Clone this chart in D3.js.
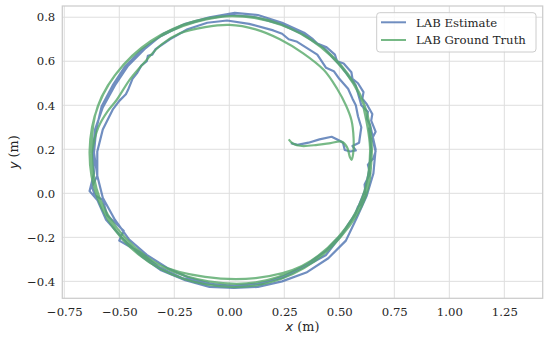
<!DOCTYPE html>
<html>
<head>
<meta charset="utf-8">
<script src="https://cdn.jsdelivr.net/npm/d3@7"></script>
<style>
  html, body { margin: 0; padding: 0; background: #fff; }
  svg { display: block; }
  text { font-family: "DejaVu Serif", serif; fill: #262626; }
</style>
</head>
<body>
<svg id="chart" width="550" height="339"></svg>
<script>
// ---- data (metres) ----
var xTicks = [-0.75, -0.5, -0.25, 0, 0.25, 0.5, 0.75, 1.0, 1.25];
var yTicks = [-0.4, -0.2, 0.0, 0.2, 0.4, 0.6, 0.8];
var seriesNames = ["LAB Estimate", "LAB Ground Truth"];

// LAB Estimate (noisy)
var estX = [0.28,0.31,0.36,0.41,0.465,0.50,0.517,0.525,0.55,0.575,0.56,0.59,
  0.60,0.585,0.575,0.56,0.54,0.50,0.475,0.44,0.40,0.305,0.27,0.24,0.20,0.09,-0.01,-0.10,-0.19,-0.27,-0.335,-0.35,-0.37,-0.375,-0.40,-0.42,-0.44,-0.46,-0.47,-0.50,-0.53,-0.575,-0.60,-0.60,-0.625,-0.61,-0.575,-0.555,-0.48,-0.50,-0.465,-0.41,-0.32,-0.215,-0.10,0.02,0.13,0.24,0.34,0.44,0.51,0.57,0.585,0.60,0.62,0.615,0.64,0.63,0.655,0.665,
  0.65,0.665,0.645,0.65,0.625,0.605,0.61,0.585,0.56,0.555,0.52,0.49,0.48,0.44,0.40,0.38,0.34,0.24,0.13,0.025,-0.09,-0.20,-0.30,-0.38,-0.46,-0.52,-0.575,-0.61,-0.62,-0.615,-0.635,-0.60,-0.56,-0.48,-0.40,-0.31,-0.20,-0.09,0.02,0.13,0.24,0.35,0.45,0.53,0.58,0.625,0.655,0.665,
  0.64,0.625,0.63,0.60,0.575,0.51,0.43,0.33,0.23,0.12,0.01,-0.10,-0.21,-0.31,-0.40,-0.475,-0.53,-0.58,-0.605,-0.615,-0.60,-0.575,-0.52,-0.455,-0.375,-0.28,-0.18,-0.07,0.04,0.15,0.25,0.35,0.44,0.515,0.575,0.615,0.635,0.645,0.635];
var estY = [0.228,0.22,0.23,0.245,0.257,0.24,0.229,0.197,0.19,0.195,0.215,0.23,
  0.30,0.35,0.40,0.43,0.475,0.52,0.555,0.57,0.63,0.69,0.70,0.725,0.74,0.77,0.785,0.775,0.745,0.70,0.655,0.63,0.625,0.60,0.58,0.545,0.52,0.47,0.45,0.42,0.38,0.29,0.19,0.08,0.03,-0.01,-0.03,-0.10,-0.17,-0.215,-0.235,-0.265,-0.335,-0.385,-0.41,-0.42,-0.41,-0.385,-0.335,-0.28,-0.19,-0.10,-0.06,-0.05,-0.01,0.04,0.09,0.13,0.16,0.19,
  0.25,0.28,0.33,0.36,0.405,0.43,0.46,0.50,0.52,0.55,0.59,0.60,0.63,0.665,0.68,0.70,0.73,0.775,0.81,0.82,0.80,0.77,0.725,0.66,0.58,0.49,0.39,0.29,0.19,0.09,0.01,-0.03,-0.12,-0.21,-0.285,-0.35,-0.395,-0.425,-0.43,-0.425,-0.40,-0.36,-0.295,-0.215,-0.11,-0.01,0.09,0.20,
  0.31,0.34,0.37,0.40,0.49,0.575,0.66,0.725,0.77,0.80,0.81,0.795,0.765,0.715,0.65,0.575,0.49,0.395,0.29,0.185,0.08,-0.02,-0.12,-0.21,-0.28,-0.34,-0.385,-0.415,-0.42,-0.41,-0.375,-0.325,-0.26,-0.18,-0.09,0.01,0.10,0.20,0.30];

// LAB Ground Truth (smooth)
var gtX = [0.27,0.29,0.33,0.40,0.46,0.51,0.535,0.548,0.556,0.563,0.565,
  0.555,0.53,0.49,0.43,0.336,0.23,0.12,0.0,-0.11,-0.224,-0.31,-0.376,-0.45,-0.512,-0.555,-0.595,-0.62,-0.628,
  -0.595,-0.49,-0.32,-0.11,0.12,0.33,0.50,0.61,0.648,0.615,0.505,0.335,0.125,-0.10,-0.31,-0.48,-0.595,-0.635,
  -0.60,-0.485,-0.31,-0.10,0.125,0.34,0.505,0.62,0.645,0.61,0.495,0.325,0.115,-0.105,-0.315,-0.485,-0.598,-0.625,
  -0.588,-0.47,-0.30,-0.095,0.12,0.325,0.495,0.605,0.64,0.61];
var gtY = [0.245,0.225,0.215,0.22,0.228,0.235,0.21,0.165,0.152,0.18,0.25,
  0.333,0.40,0.475,0.56,0.636,0.70,0.745,0.765,0.755,0.727,0.675,0.606,0.52,0.424,0.37,0.30,0.21,0.12,
  -0.02,-0.20,-0.325,-0.38,-0.385,-0.33,-0.195,-0.02,0.19,0.40,0.585,0.72,0.795,0.795,0.72,0.585,0.40,0.19,
  -0.02,-0.21,-0.345,-0.415,-0.418,-0.34,-0.20,-0.015,0.195,0.405,0.59,0.725,0.80,0.79,0.712,0.578,0.395,0.185,
  -0.025,-0.205,-0.335,-0.40,-0.405,-0.335,-0.20,-0.02,0.19,0.39];

var colors = ["#4c72b0", "#55a868"];

// ---- layout ----
var svg = d3.select("#chart");
var plotL = 62.3, plotR = 542.7, plotT = 6, plotB = 298.3;

var x = d3.scaleLinear().domain([-0.759, 1.4245]).range([plotL, plotR]);
var y = d3.scaleLinear().domain([-0.477, 0.851]).range([plotB, plotT]);

// grid
svg.append("g").selectAll("line").data(xTicks).join("line")
  .attr("x1", d => x(d)).attr("x2", d => x(d))
  .attr("y1", plotT).attr("y2", plotB)
  .attr("stroke", "#dedede").attr("stroke-width", 1);
svg.append("g").selectAll("line").data(yTicks).join("line")
  .attr("x1", plotL).attr("x2", plotR)
  .attr("y1", d => y(d)).attr("y2", d => y(d))
  .attr("stroke", "#dedede").attr("stroke-width", 1);

// axes (labels only)
var xAxis = svg.append("g").attr("transform", "translate(0," + plotB + ")")
  .call(d3.axisBottom(x).tickValues(xTicks).tickFormat(d3.format(".2f")).tickSize(0).tickPadding(9));
var yAxis = svg.append("g").attr("transform", "translate(" + plotL + ",0)")
  .call(d3.axisLeft(y).tickValues(yTicks).tickFormat(d3.format(".1f")).tickSize(0).tickPadding(7));
[xAxis, yAxis].forEach(function (a) {
  a.select(".domain").remove();
  a.selectAll("text").style("font-family", "DejaVu Serif").style("font-size", "11.7px").attr("fill", "#262626");
});

// lines
var line = d3.line().x(d => x(d[0])).y(d => y(d[1]));
var estPts = d3.zip(estX, estY);
var gtPts = d3.zip(gtX, gtY);

svg.append("path").datum(estPts)
  .attr("d", line.curve(d3.curveLinear))
  .attr("fill", "none").attr("stroke", colors[0]).attr("stroke-width", 2.2)
  .attr("stroke-opacity", 0.8).attr("stroke-linejoin", "round");
svg.append("path").datum(gtPts)
  .attr("d", line.curve(d3.curveCatmullRom.alpha(0.5)))
  .attr("fill", "none").attr("stroke", colors[1]).attr("stroke-width", 2.2)
  .attr("stroke-opacity", 0.8).attr("stroke-linejoin", "round");

// frame
svg.append("rect")
  .attr("x", plotL).attr("y", plotT).attr("width", plotR - plotL).attr("height", plotB - plotT)
  .attr("fill", "none").attr("stroke", "#cccccc").attr("stroke-width", 1.25);

// axis labels
var xl = svg.append("text").attr("x", (plotL + plotR) / 2).attr("y", 331)
  .attr("text-anchor", "middle").style("font-size", "12.8px");
xl.append("tspan").style("font-family", "DejaVu Sans").style("font-style", "italic").text("x");
xl.append("tspan").text(" (m)");

var yl = svg.append("text")
  .attr("transform", "translate(18," + ((plotT + plotB) / 2) + ") rotate(-90)")
  .attr("text-anchor", "middle").style("font-size", "12.8px");
yl.append("tspan").style("font-family", "DejaVu Sans").style("font-style", "italic").text("y");
yl.append("tspan").text(" (m)");

// legend
var lg = svg.append("g");
lg.append("rect").attr("x", 376.7).attr("y", 12.7).attr("width", 159.3).attr("height", 39.3)
  .attr("rx", 3).attr("fill", "#ffffff").attr("fill-opacity", 0.8)
  .attr("stroke", "#cccccc").attr("stroke-width", 1);
seriesNames.forEach(function (name, i) {
  var ly = 22.3 + i * 17.7;
  lg.append("line").attr("x1", 381).attr("x2", 406).attr("y1", ly).attr("y2", ly)
    .attr("stroke", colors[i]).attr("stroke-width", 2).attr("stroke-opacity", 0.8);
  lg.append("text").attr("x", 416).attr("y", ly + 4.2)
    .style("font-size", "11.7px").text(name);
});
</script>
</body>
</html>
